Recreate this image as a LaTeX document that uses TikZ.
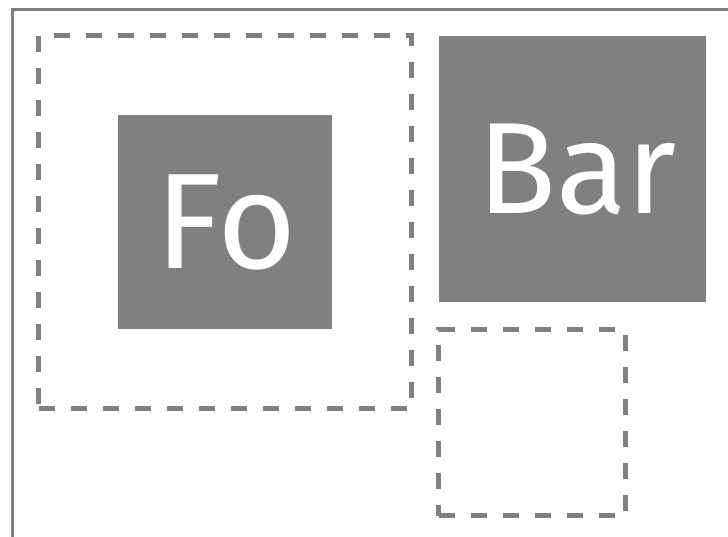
\documentclass[tikz,border=0pt]{standalone}
\usepackage{fontspec}
\setmainfont{Fira Sans}
\begin{document}
\begin{tikzpicture}[x=1pt,y=-1pt,
  frameline/.style={draw=gray,line width=3pt},
  dashbox/.style={draw=gray,line width=5pt,dash pattern=on 16pt off 16pt,rectangle,inner sep=0pt,outer sep=0pt},
  fillbox/.style={fill=gray,draw=none,rectangle,inner sep=0pt,outer sep=0pt,text=white,
    font=\fontsize{136}{136}\selectfont}]
\useasboundingbox (0,0) rectangle (728,537);
\fill[white] (0,0) rectangle (728,537);
\coordinate (ftop) at (740,9.3);
\coordinate (fcorner) at (12,9.3);
\coordinate (fbot) at (12,545);
\draw[frameline] (ftop) -- (fcorner) -- (fbot);
\node[dashbox,minimum width=373pt,minimum height=373.5pt] (outer) at (225,222.2) {};
\node[fillbox,minimum width=214pt,minimum height=214pt] (fo) at (225,222) {\hspace*{3pt}Fo};
\node[fillbox,minimum width=267pt,minimum height=266pt,font=\fontsize{130}{130}\selectfont] (bar) at (572.5,169) {\hspace*{9pt}Bar};
\node[dashbox,minimum width=186.6pt,minimum height=186.7pt] (empty) at (532,422.6) {};
\end{tikzpicture}
\end{document}
